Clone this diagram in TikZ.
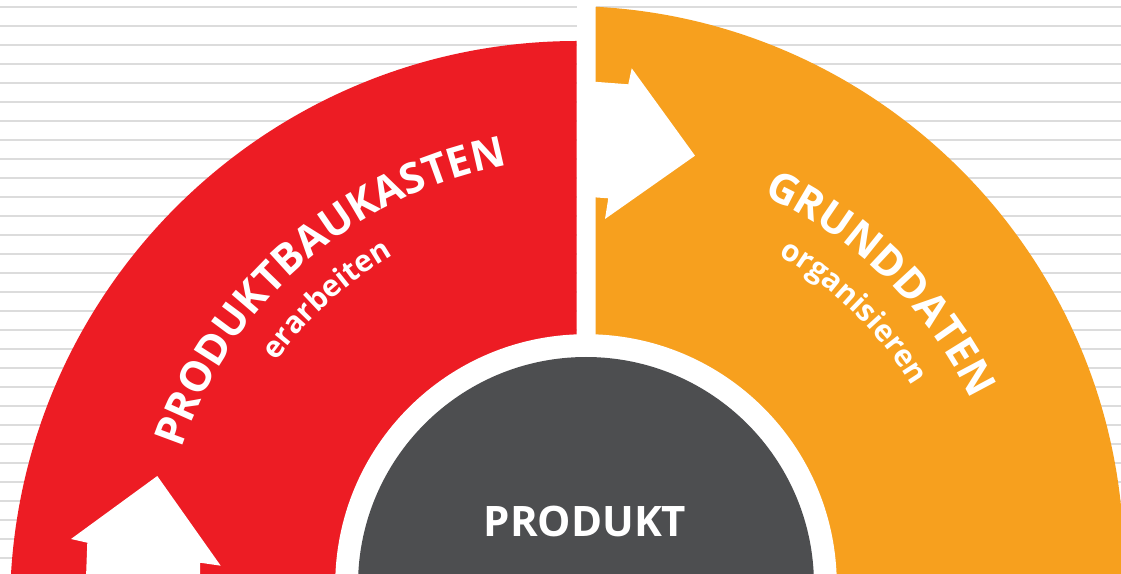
\documentclass[tikz,border=0pt]{standalone}
\usepackage{fontspec}
\setmainfont{Open Sans}
\usetikzlibrary{decorations.text}
\definecolor{bgline}{HTML}{DCDCDC}
\definecolor{kred}{HTML}{ED1C24}
\definecolor{korange}{HTML}{F7A01E}
\definecolor{kgray}{HTML}{4D4E50}
\newcommand\bigtxt{\fontsize{42}{42}\selectfont\bfseries\color{white}}
\newcommand\smalltxt{\fontsize{30}{30}\selectfont\bfseries\color{white}}
\tikzset{
  bgrule/.style={bgline, line width=2.4pt},
  arrowshape/.style={fill=white},
  arctext/.style={decorate, decoration={text along path, text align=center, text={#1}}}
}
\begin{document}
\begin{tikzpicture}[x=1pt,y=1pt]
\useasboundingbox (0,0) rectangle (1121,573);
\fill[white] (0,0) rectangle (1121,573);
\foreach \k in {0,...,30} \draw[bgrule] (0,{566-19*\k}) -- (1121,{566-19*\k});
% white gap strip
\fill[white] (576.5,-5) rectangle (595.5,580);
% red quarter
\begin{scope}
  \clip (-5,-5) rectangle (576.5,580);
  \fill[kred] (577,-35) circle[radius=567pt];
\end{scope}
% orange quarter
\begin{scope}
  \clip (595.5,-5) rectangle (1130,580);
  \fill[korange] (566,9) circle[radius=558pt];
\end{scope}
% white ring and product circle
\fill[white] (586,-12) circle[radius=250.8pt];
\node[circle, fill=kgray, minimum size=456pt, inner sep=0pt] (core) at (586,-12) {};
\node[anchor=base, text=white, font=\fontsize{42}{42}\selectfont\bfseries] (produkt) at (585,37) {PRODUKT};
% arrows
\fill[arrowshape] (594,491.3) -- (628.3,488.7) -- (631.7,504.7) -- (695,417.3) -- (605,354) -- (608.3,374.7) -- (594,375.7) -- cycle;
\fill[arrowshape] (157.3,97) -- (220.7,7.3) -- (200,10.3) -- (200,-5) -- (86,-5) -- (87.3,30.3) -- (71,34) -- cycle;
% curved texts
\path[arctext={|\bigtxt|PRODUKTBAUKASTEN}] (586,-12) ++(163:427pt) arc[start angle=163, end angle=99, radius=427pt];
\path[arctext={|\smalltxt|erarbeiten}] (586,-12) ++(145:382pt) arc[start angle=145, end angle=119.5, radius=382pt];
\path[arctext={|\bigtxt|GRUNDDATEN}] (586,-12) ++(65.5:428pt) arc[start angle=65.5, end angle=25.7, radius=428pt];
\path[arctext={|\smalltxt|organisieren}] (586,-12) ++(60:382pt) arc[start angle=60, end angle=31, radius=382pt];
\end{tikzpicture}
\end{document}
